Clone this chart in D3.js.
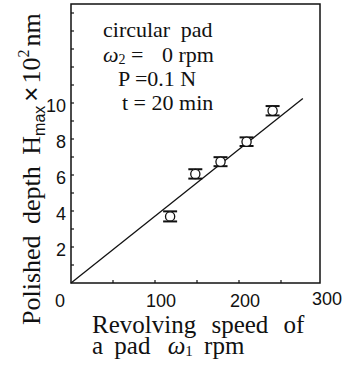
<!DOCTYPE html>
<html>
<head>
<meta charset="utf-8">
<script src="https://cdn.jsdelivr.net/npm/d3@7"></script>
<style>
  body { margin: 0; background: #fff; }
  svg { display: block; }
</style>
</head>
<body>
<div id="chart"></div>
<script>
// pad revolving speed (rpm) vs polished depth (x10^2 nm)
const speed = [118, 148, 178, 209, 240];
const depth = [3.7, 6.06, 6.74, 7.85, 9.57];
const spread = [0.28, 0.26, 0.25, 0.24, 0.26];

// fitted line end points
const fitSpeed = [0, 276];
const fitDepth = [0, 10.25];

const xTicks = [0, 100, 200, 300];
const xMinor = [50, 100, 150, 200, 250];
const yTicks = [2, 4, 6, 8, 10];
const yMinor = [1, 2, 3, 4, 5, 6, 7, 8, 9, 10, 11, 12, 13, 14, 15];

const width = 352, height = 369;
const serif = "'Liberation Serif', 'Times New Roman', serif";
const sans = "'Liberation Sans', Arial, sans-serif";

const x = d3.scaleLinear().domain([0, 300]).range([71, 323]);
const y = d3.scaleLinear().domain([0, 10]).range([283, 103]);
const frame = { left: 71, right: 320, top: 4, bottom: 283 };

const svg = d3.select("#chart").append("svg")
    .attr("width", width)
    .attr("height", height);

svg.append("rect")
    .attr("x", frame.left)
    .attr("y", frame.top)
    .attr("width", frame.right - frame.left)
    .attr("height", frame.bottom - frame.top)
    .attr("fill", "none")
    .attr("stroke", "#111")
    .attr("stroke-width", 1.5);

// inner ticks
svg.append("g").selectAll("line")
    .data(xMinor)
    .join("line")
    .attr("x1", d => x(d)).attr("x2", d => x(d))
    .attr("y1", frame.bottom).attr("y2", frame.bottom - 3)
    .attr("stroke", "#111").attr("stroke-width", 1.2);

svg.append("g").selectAll("line")
    .data(yMinor.filter(d => y(d) > frame.top + 2))
    .join("line")
    .attr("x1", frame.left).attr("x2", frame.left + 3)
    .attr("y1", d => y(d)).attr("y2", d => y(d))
    .attr("stroke", "#111").attr("stroke-width", 1.2);

// tick labels
svg.append("g").selectAll("text")
    .data(xTicks)
    .join("text")
    .attr("x", d => d === 0 ? x(d) - 11 : x(d) + (d === 300 ? 4 : 6))
    .attr("y", d => d === 300 ? 305 : 307)
    .attr("text-anchor", "middle")
    .style("font-family", sans)
    .style("font-size", "18px")
    .attr("fill", "#111")
    .text(d => d);

svg.append("g").selectAll("text")
    .data(yTicks)
    .join("text")
    .attr("x", 66)
    .attr("y", d => y(d) + 9)
    .attr("text-anchor", "end")
    .style("font-family", sans)
    .style("font-size", "18px")
    .attr("fill", "#111")
    .text(d => d);

// fitted line
const line = d3.line().x(d => x(d[0])).y(d => y(d[1]));
svg.append("path")
    .datum(d3.zip(fitSpeed, fitDepth))
    .attr("d", line)
    .attr("fill", "none")
    .attr("stroke", "#111")
    .attr("stroke-width", 1.3);

// measured points with error caps
const pts = svg.append("g").selectAll("g")
    .data(d3.zip(speed, depth, spread))
    .join("g");

pts.append("line")
    .attr("x1", d => x(d[0])).attr("x2", d => x(d[0]))
    .attr("y1", d => y(d[1] - d[2])).attr("y2", d => y(d[1] + d[2]))
    .attr("stroke", "#111").attr("stroke-width", 1.2);

pts.selectAll("line.cap")
    .data(d => [[d[0], d[1] - d[2]], [d[0], d[1] + d[2]]])
    .join("line")
    .attr("class", "cap")
    .attr("x1", d => x(d[0]) - 7).attr("x2", d => x(d[0]) + 7)
    .attr("y1", d => y(d[1])).attr("y2", d => y(d[1]))
    .attr("stroke", "#111").attr("stroke-width", 2);

pts.append("circle")
    .attr("cx", d => x(d[0]))
    .attr("cy", d => y(d[1]))
    .attr("r", 4.6)
    .attr("fill", "#fff")
    .attr("stroke", "#111")
    .attr("stroke-width", 1.3);

// condition notes
const note = svg.append("g")
    .style("font-family", serif)
    .style("font-size", "22px")
    .attr("fill", "#111");

note.append("text").attr("x", 103).attr("y", 37)
    .style("word-spacing", "5px")
    .text("circular pad");

const w2 = note.append("text").attr("x", 103).attr("y", 62);
w2.append("tspan").style("font-style", "italic").text("ω");
w2.append("tspan").style("font-size", "14px").attr("dy", 2).text("2");
w2.append("tspan").attr("dy", -2).text(" =");
note.append("text").attr("x", 162).attr("y", 62).text("0 rpm");

note.append("text").attr("x", 118).attr("y", 86).text("P =0.1 N");
note.append("text").attr("x", 122).attr("y", 110).text("t = 20 min");

// x axis title
const xt = svg.append("g")
    .style("font-family", serif)
    .style("font-size", "25px")
    .attr("fill", "#111");

xt.append("text").attr("x", 92).attr("y", 333)
    .style("word-spacing", "9px")
    .text("Revolving speed of");
const xt2 = xt.append("text").attr("x", 92).attr("y", 354)
    .style("word-spacing", "5px");
xt2.append("tspan").text("a pad ");
xt2.append("tspan").attr("dx", 6).style("font-style", "italic").text("ω");
xt2.append("tspan").style("font-size", "15px").attr("dy", 2).text("1");
xt2.append("tspan").attr("dy", -2).text(" rpm");

// y axis title
const yt = svg.append("text")
    .attr("transform", "translate(40,325) rotate(-90)")
    .style("font-family", serif)
    .style("font-size", "26px")
    .style("word-spacing", "5px")
    .attr("fill", "#111");

yt.append("tspan").text("Polished depth H");
yt.append("tspan").attr("dy", 5).style("font-family", sans)
    .style("font-size", "16px").text("max");
yt.append("tspan").attr("dy", -5).attr("dx", 4).style("font-family", sans).text("×");
yt.append("tspan").attr("dx", 3).text("10");
yt.append("tspan").attr("dy", -11).style("font-size", "16px").text("2");
yt.append("tspan").attr("dy", 11).attr("dx", 3).text("nm");
</script>
</body>
</html>
